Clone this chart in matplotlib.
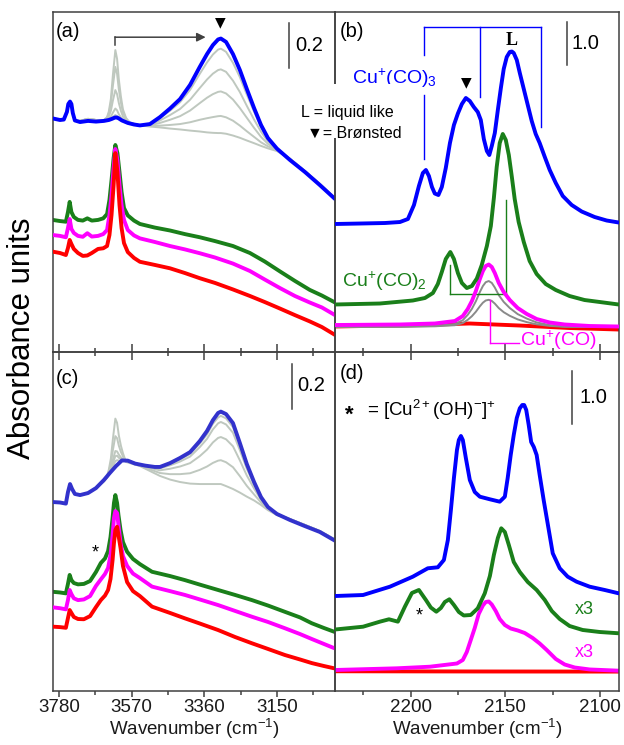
import matplotlib
matplotlib.use('Agg')
import matplotlib.pyplot as plt
from matplotlib.ticker import FixedLocator, NullLocator
from matplotlib.patches import Rectangle

plt.rcParams['font.family'] = ['Liberation Sans', 'DejaVu Sans']
plt.rcParams['mathtext.fontset'] = 'custom'
plt.rcParams['mathtext.rm'] = 'Liberation Sans'
plt.rcParams['mathtext.it'] = 'Liberation Sans:italic'
plt.rcParams['mathtext.bf'] = 'Liberation Sans:bold'

# ---------------- panel (a): OH region ----------------
A_BLUE_WN = [3798, 3777, 3766, 3757, 3753, 3748, 3744, 3740, 3734, 3719, 3696, 3673, 3650, 3636, 3627,
             3618, 3612, 3607, 3598, 3581, 3563, 3546, 3517, 3488, 3459, 3430, 3401, 3373, 3352, 3335,
             3320, 3312, 3297, 3277, 3257, 3237, 3216, 3196, 3176, 3150, 3112, 3069, 3026, 2982]
A_BLUE = [1.038, 1.031, 1.033, 1.067, 1.102, 1.113, 1.102, 1.062, 1.029, 1.022, 1.027, 1.024, 1.027, 1.031,
          1.036, 1.042, 1.042, 1.038, 1.029, 1.018, 1.011, 1.007, 1.013, 1.044, 1.082, 1.124, 1.187, 1.267,
          1.324, 1.364, 1.389, 1.393, 1.378, 1.324, 1.253, 1.169, 1.084, 1.009, 0.951, 0.904, 0.853, 0.800,
          0.742, 0.680]

GRAY_WN = [3734, 3719, 3696, 3673, 3650, 3641, 3636, 3630, 3624, 3617, 3612, 3607, 3601, 3595, 3586, 3575,
           3546, 3517, 3488, 3459, 3430, 3401, 3373, 3352, 3335, 3320, 3312, 3297, 3277, 3257, 3237, 3216,
           3196, 3176, 3150, 3112, 3069, 3026, 2982]
A_GRAY1 = [1.027, 1.027, 1.036, 1.031, 1.031, 1.044, 1.068, 1.124, 1.233, 1.342, 1.303, 1.213, 1.136, 1.078,
           1.040, 1.020, 1.007, 1.002, 0.998, 0.993, 0.989, 0.984, 0.980, 0.976, 0.974, 0.973, 0.973, 0.970,
           0.962, 0.952, 0.940, 0.928, 0.916, 0.905, 0.893, 0.858, 0.804, 0.747, 0.684]
A_GRAY2 = [1.027, 1.027, 1.036, 1.031, 1.031, 1.040, 1.060, 1.102, 1.184, 1.267, 1.236, 1.168, 1.109, 1.064,
           1.034, 1.018, 1.007, 1.004, 1.006, 1.009, 1.013, 1.021, 1.032, 1.039, 1.044, 1.048, 1.049, 1.043,
           1.028, 1.006, 0.981, 0.956, 0.932, 0.914, 0.896, 0.858, 0.804, 0.747, 0.684]
A_GRAY3 = [1.027, 1.027, 1.036, 1.031, 1.031, 1.036, 1.047, 1.071, 1.118, 1.164, 1.146, 1.107, 1.072, 1.046,
           1.027, 1.016, 1.007, 1.007, 1.018, 1.032, 1.048, 1.073, 1.106, 1.130, 1.146, 1.156, 1.158, 1.149,
           1.122, 1.084, 1.041, 0.996, 0.956, 0.925, 0.898, 0.858, 0.804, 0.747, 0.684]
A_GRAY4 = [1.027, 1.027, 1.036, 1.031, 1.031, 1.033, 1.037, 1.046, 1.064, 1.082, 1.074, 1.057, 1.043, 1.032,
           1.021, 1.014, 1.007, 1.010, 1.029, 1.053, 1.080, 1.121, 1.173, 1.211, 1.237, 1.253, 1.256, 1.245,
           1.206, 1.155, 1.094, 1.033, 0.979, 0.936, 0.901, 0.858, 0.804, 0.747, 0.684]
A_GRAY5 = [1.027, 1.027, 1.036, 1.031, 1.031, 1.032, 1.034, 1.038, 1.045, 1.053, 1.048, 1.040, 1.032, 1.026,
           1.019, 1.014, 1.007, 1.012, 1.040, 1.072, 1.110, 1.165, 1.236, 1.287, 1.322, 1.344, 1.348, 1.334,
           1.285, 1.221, 1.144, 1.068, 0.999, 0.946, 0.903, 0.858, 0.804, 0.747, 0.684]

A_LOW_WN = [3798, 3777, 3760, 3754, 3749, 3744, 3737, 3725, 3711, 3698, 3685, 3667, 3652, 3641, 3634, 3628,
            3622, 3617, 3611, 3605, 3599, 3592, 3581, 3563, 3546, 3503, 3459, 3416, 3373, 3329, 3277, 3228,
            3185, 3141, 3098, 3055, 3020, 2982]
A_GREEN = [0.587, 0.582, 0.579, 0.622, 0.667, 0.622, 0.600, 0.587, 0.584, 0.594, 0.584, 0.587, 0.594, 0.613,
           0.676, 0.764, 0.862, 0.920, 0.884, 0.800, 0.711, 0.640, 0.607, 0.584, 0.569, 0.553, 0.540, 0.524,
           0.510, 0.493, 0.471, 0.440, 0.402, 0.358, 0.316, 0.276, 0.251, 0.220]
A_MAGENTA = [0.520, 0.516, 0.510, 0.551, 0.591, 0.547, 0.529, 0.516, 0.512, 0.528, 0.513, 0.516, 0.524, 0.542,
             0.609, 0.698, 0.818, 0.902, 0.853, 0.742, 0.653, 0.587, 0.542, 0.518, 0.505, 0.489, 0.471, 0.456,
             0.439, 0.420, 0.393, 0.360, 0.322, 0.284, 0.249, 0.220, 0.198, 0.164]
A_RED = [0.446, 0.440, 0.431, 0.462, 0.498, 0.480, 0.458, 0.440, 0.427, 0.429, 0.440, 0.458, 0.461, 0.471,
         0.520, 0.609, 0.742, 0.884, 0.800, 0.653, 0.551, 0.484, 0.444, 0.418, 0.401, 0.387, 0.372, 0.351,
         0.328, 0.307, 0.278, 0.249, 0.222, 0.193, 0.164, 0.136, 0.111, 0.076]

# ---------------- panel (c): OH region ----------------
C_BLUE_WN = [3798, 3777, 3760, 3754, 3748, 3742, 3734, 3719, 3696, 3673, 3650, 3633, 3615, 3598, 3581, 3560,
             3531, 3503, 3488, 3459, 3430, 3401, 3373, 3352, 3335, 3320, 3312, 3297, 3277, 3257, 3237, 3216,
             3196, 3176, 3150, 3112, 3069, 3026, 2982]
C_BLUE = [0.840, 0.838, 0.833, 0.884, 0.920, 0.898, 0.876, 0.871, 0.880, 0.902, 0.938, 0.969, 1.000, 1.025,
          1.024, 1.011, 1.002, 0.996, 0.996, 1.013, 1.036, 1.062, 1.111, 1.156, 1.204, 1.236, 1.242, 1.231,
          1.191, 1.102, 1.009, 0.929, 0.862, 0.818, 0.787, 0.760, 0.733, 0.707, 0.668]
C_GRAY1 = [0.876, 0.871, 0.880, 0.902, 0.933, 0.956, 0.983, 1.033, 1.122, 1.211, 1.192, 1.137, 1.091, 1.057,
           1.018, 1.013, 1.000, 0.978, 0.956, 0.940, 0.929, 0.922, 0.920, 0.920, 0.920, 0.920, 0.920, 0.911,
           0.898, 0.882, 0.864, 0.847, 0.827, 0.804, 0.782, 0.764, 0.738, 0.711, 0.673]
C_GRAY2 = [0.876, 0.871, 0.880, 0.902, 0.933, 0.953, 0.974, 1.010, 1.072, 1.133, 1.124, 1.091, 1.063, 1.043,
           1.020, 1.016, 1.002, 0.985, 0.969, 0.964, 0.964, 0.968, 0.983, 0.998, 1.014, 1.024, 1.026, 1.017,
           0.995, 0.955, 0.912, 0.874, 0.838, 0.809, 0.784, 0.764, 0.738, 0.711, 0.673]
C_GRAY3 = [0.876, 0.871, 0.880, 0.902, 0.933, 0.950, 0.966, 0.990, 1.028, 1.067, 1.065, 1.051, 1.039, 1.031,
           1.022, 1.019, 1.004, 0.992, 0.981, 0.988, 0.998, 1.013, 1.044, 1.073, 1.105, 1.125, 1.129, 1.119,
           1.088, 1.025, 0.958, 0.900, 0.850, 0.813, 0.785, 0.764, 0.738, 0.711, 0.673]
C_GRAY4 = [0.876, 0.871, 0.880, 0.902, 0.933, 0.949, 0.963, 0.983, 1.014, 1.044, 1.046, 1.037, 1.031, 1.027,
           1.024, 1.021, 1.006, 0.996, 0.990, 1.003, 1.020, 1.042, 1.084, 1.121, 1.163, 1.190, 1.196, 1.185,
           1.148, 1.070, 0.988, 0.917, 0.857, 0.816, 0.786, 0.764, 0.738, 0.711, 0.673]
C_GRAY5 = [0.876, 0.871, 0.880, 0.902, 0.933, 0.948, 0.960, 0.976, 0.999, 1.022, 1.026, 1.024, 1.023, 1.023,
           1.025, 1.022, 1.006, 0.997, 0.993, 1.009, 1.029, 1.054, 1.100, 1.141, 1.188, 1.216, 1.223, 1.212,
           1.173, 1.089, 1.000, 0.924, 0.860, 0.817, 0.786, 0.764, 0.738, 0.711, 0.673]

C_LOW_WN = [3798, 3777, 3760, 3754, 3749, 3744, 3737, 3725, 3708, 3690, 3673, 3659, 3647, 3638, 3631, 3625,
            3621, 3617, 3612, 3608, 3602, 3595, 3583, 3566, 3546, 3511, 3459, 3416, 3373, 3320, 3271, 3222,
            3176, 3127, 3083, 3049, 3014, 2982]
C_GREEN = [0.441, 0.438, 0.434, 0.476, 0.516, 0.493, 0.480, 0.474, 0.476, 0.489, 0.529, 0.569, 0.589, 0.622,
           0.684, 0.769, 0.836, 0.871, 0.836, 0.782, 0.716, 0.662, 0.619, 0.587, 0.564, 0.530, 0.511, 0.493,
           0.473, 0.449, 0.427, 0.404, 0.380, 0.352, 0.327, 0.301, 0.280, 0.262]
C_MAGENTA = [0.372, 0.368, 0.363, 0.404, 0.449, 0.431, 0.412, 0.404, 0.407, 0.422, 0.467, 0.496, 0.520, 0.547,
             0.604, 0.693, 0.769, 0.800, 0.791, 0.738, 0.658, 0.600, 0.556, 0.522, 0.502, 0.464, 0.444, 0.427,
             0.407, 0.382, 0.356, 0.330, 0.307, 0.279, 0.253, 0.231, 0.209, 0.189]
C_RED = [0.286, 0.284, 0.281, 0.324, 0.360, 0.347, 0.329, 0.320, 0.319, 0.333, 0.373, 0.404, 0.424, 0.449,
         0.498, 0.582, 0.658, 0.716, 0.730, 0.693, 0.636, 0.556, 0.484, 0.444, 0.422, 0.375, 0.347, 0.323,
         0.300, 0.271, 0.240, 0.212, 0.187, 0.160, 0.140, 0.124, 0.111, 0.100]

# ---------------- panel (b): CO region ----------------
B_BLUE_WN = [2240, 2226.8, 2213.6, 2205.7, 2201.5, 2198.3, 2195.7, 2193.6, 2192.0, 2190.4, 2188.8, 2187.3,
             2185.4, 2183.6, 2181.5, 2179.3, 2177.2, 2175.1, 2173.0, 2170.9, 2168.8, 2166.7, 2164.6, 2163.0,
             2161.4, 2159.8, 2158.5, 2157.2, 2155.6, 2154.0, 2152.4, 2150.9, 2149.3, 2147.7, 2146.6, 2145.6,
             2144.0, 2142.4, 2140.3, 2138.2, 2136.1, 2134.0, 2131.9, 2129.2, 2126.6, 2123.4, 2119.7, 2115.0,
             2109.7, 2102.9, 2096.5, 2090.2]
B_BLUE = [2.977, 2.988, 3.000, 3.023, 3.093, 3.419, 3.860, 4.163, 4.233, 4.093, 3.837, 3.686, 3.651, 3.837,
          4.279, 4.860, 5.279, 5.547, 5.767, 5.907, 5.837, 5.698, 5.581, 5.395, 4.953, 4.674, 4.581, 4.791,
          5.093, 5.628, 6.140, 6.581, 6.860, 6.977, 6.988, 6.953, 6.791, 6.488, 6.116, 5.744, 5.372, 5.070,
          4.860, 4.535, 4.233, 3.930, 3.628, 3.419, 3.267, 3.140, 3.058, 3.012]
B_GREEN_WN = [2240, 2216.3, 2198.9, 2192.5, 2188.3, 2185.7, 2183.6, 2181.5, 2179.1, 2177.2, 2175.1, 2173.0,
              2170.4, 2167.7, 2165.1, 2162.5, 2159.8, 2157.7, 2156.1, 2154.6, 2153.0, 2151.4, 2149.8, 2148.2,
              2146.6, 2145.1, 2143.0, 2140.3, 2137.2, 2133.5, 2128.7, 2123.4, 2116.1, 2108.2, 2100.2, 2090.2]
B_GREEN = [1.105, 1.128, 1.198, 1.256, 1.372, 1.581, 1.860, 2.163, 2.326, 2.163, 1.837, 1.605, 1.488, 1.535,
           1.709, 2.023, 2.465, 2.930, 3.581, 4.302, 4.860, 5.070, 4.930, 4.581, 4.070, 3.558, 3.023, 2.558,
           2.116, 1.814, 1.581, 1.442, 1.302, 1.209, 1.163, 1.105]
B_MAG_WN = [2240, 2205.7, 2187.3, 2176.7, 2172.5, 2169.9, 2167.7, 2165.6, 2163.5, 2161.9, 2160.4, 2158.8,
            2157.2, 2155.6, 2153.5, 2150.9, 2147.7, 2143.5, 2138.7, 2133.5, 2126.6, 2118.7, 2105.5, 2090.2]
B_MAGENTA = [0.628, 0.640, 0.663, 0.721, 0.837, 1.000, 1.186, 1.419, 1.698, 1.884, 2.000, 2.035, 1.977, 1.837,
             1.605, 1.395, 1.209, 1.023, 0.884, 0.767, 0.686, 0.640, 0.605, 0.593]
B_GRAY1 = [0.581, 0.591, 0.607, 0.651, 0.740, 0.865, 1.005, 1.181, 1.395, 1.535, 1.623, 1.651, 1.607, 1.500,
           1.323, 1.165, 1.023, 0.881, 0.777, 0.688, 0.626, 0.591, 0.581, 0.581]
B_GRAY2 = [0.581, 0.586, 0.598, 0.623, 0.674, 0.749, 0.833, 0.937, 1.063, 1.147, 1.198, 1.214, 1.188, 1.126,
           1.021, 0.926, 0.842, 0.758, 0.695, 0.644, 0.607, 0.586, 0.581, 0.581]
B_RED_WN = [2240, 2195.2, 2168.8, 2142.4, 2116.1, 2090.2]
B_RED = [0.593, 0.628, 0.663, 0.616, 0.558, 0.523]

# ---------------- panel (d): CO region ----------------
D_BLUE_WN = [2240, 2225.2, 2211.0, 2198.9, 2191.0, 2185.7, 2182.5, 2180.4, 2178.8, 2177.2, 2175.6, 2174.6,
             2173.5, 2172.5, 2170.9, 2168.8, 2166.2, 2163.5, 2158.2, 2153.0, 2150.3, 2148.8, 2147.2, 2145.6,
             2144.0, 2142.4, 2141.1, 2140.1, 2139.0, 2137.7, 2136.4, 2135.0, 2133.5, 2131.9, 2129.8, 2127.7,
             2125.0, 2121.3, 2117.1, 2112.4, 2105.5, 2097.6, 2090.2]
D_BLUE = [1.792, 1.811, 1.968, 2.157, 2.315, 2.334, 2.472, 2.849, 3.415, 4.019, 4.547, 4.736, 4.811, 4.736,
          4.396, 3.981, 3.755, 3.666, 3.617, 3.572, 3.666, 4.019, 4.453, 4.830, 5.151, 5.334, 5.396, 5.396,
          5.302, 5.019, 4.698, 4.604, 4.453, 4.075, 3.604, 3.164, 2.598, 2.315, 2.157, 2.062, 1.968, 1.906,
          1.843]
D_GREEN_WN = [2240, 2225.2, 2216.3, 2211.5, 2206.8, 2203.1, 2199.4, 2195.7, 2192.0, 2189.4, 2186.5, 2184.1,
              2182.0, 2179.6, 2177.2, 2174.6, 2172.0, 2168.3, 2164.6, 2160.9, 2158.2, 2156.1, 2154.0, 2152.2,
              2150.3, 2148.2, 2145.6, 2142.4, 2138.2, 2133.5, 2129.2, 2125.5, 2121.3, 2116.1, 2109.2, 2100.2,
              2090.2]
D_GREEN = [1.160, 1.213, 1.308, 1.353, 1.308, 1.591, 1.849, 1.906, 1.717, 1.575, 1.496, 1.566, 1.679, 1.730,
           1.623, 1.491, 1.425, 1.434, 1.560, 1.843, 2.170, 2.566, 2.887, 3.070, 3.000, 2.755, 2.434, 2.245,
           2.057, 1.906, 1.717, 1.509, 1.358, 1.226, 1.151, 1.113, 1.089]
D_MAG_WN = [2240, 2207.3, 2189.9, 2175.6, 2172.5, 2170.4, 2168.3, 2166.2, 2164.1, 2161.9, 2160.4, 2158.8,
            2157.2, 2155.1, 2153.0, 2150.3, 2147.2, 2143.5, 2139.8, 2135.6, 2131.9, 2128.2, 2123.4, 2118.7,
            2113.4, 2105.5, 2090.2]
D_MAGENTA = [0.396, 0.428, 0.458, 0.519, 0.585, 0.736, 0.962, 1.189, 1.453, 1.613, 1.679, 1.689, 1.632, 1.509,
             1.358, 1.245, 1.179, 1.142, 1.094, 1.000, 0.896, 0.774, 0.604, 0.500, 0.443, 0.406, 0.383]
D_RED_WN = [2240, 2165, 2090]
D_RED = [0.372, 0.368, 0.366]

OH_MAJOR = [3780, 3570, 3360, 3150]
OH_MINOR = [3675, 3465, 3255, 3045]
CO_MAJOR = [2200, 2150, 2100]
CO_MINOR = [2225, 2175, 2125]

# ---------------- styling ----------------
BLUE = '#0000ff'
BLUE_C = '#3232cc'
GREEN = '#1a7f1a'
MAGENTA = '#ff00ff'
RED = '#ff0000'
GRAY = '#bfc8bf'
GRAY_B = '#8a8a8a'
SPINE = '#404040'
LW = 2.8
GLW = 1.4

fig = plt.figure(figsize=(6.24, 7.45), dpi=100)
axA = fig.add_axes([0.0845, 0.5275, 0.4524, 0.4564])
axB = fig.add_axes([0.5369, 0.5275, 0.4551, 0.4564])
axC = fig.add_axes([0.0845, 0.0725, 0.4524, 0.4550])
axD = fig.add_axes([0.5369, 0.0725, 0.4551, 0.4550])


def style(ax, top, oh):
    ax.set_facecolor('none')
    for s in ax.spines.values():
        s.set_color(SPINE)
        s.set_linewidth(1.1)
    ax.yaxis.set_major_locator(NullLocator())
    ax.yaxis.set_minor_locator(NullLocator())
    ax.xaxis.set_major_locator(FixedLocator(OH_MAJOR if oh else CO_MAJOR))
    ax.xaxis.set_minor_locator(FixedLocator(OH_MINOR if oh else CO_MINOR))
    if oh:
        ax.set_xlim(3798, 2982)
    else:
        ax.set_xlim(2240, 2090)
    if top:
        ax.tick_params(axis='x', which='major', direction='inout', length=11, width=1.1,
                       color=SPINE, labelbottom=False)
        ax.tick_params(axis='x', which='minor', direction='inout', length=5.5, width=1.1, color=SPINE)
    else:
        ax.tick_params(axis='x', which='major', direction='out', length=4.5, width=1.1,
                       color=SPINE, labelsize=13.5, pad=1.5, labelcolor='#1a1a1a')
        ax.tick_params(axis='x', which='minor', direction='out', length=3, width=1.1, color=SPINE)
        ax.set_xlabel('Wavenumber (cm$^{-1}$)', fontsize=13.5, labelpad=0.5, color='#1a1a1a')


def curve(ax, x, y, color, lw=LW, z=3):
    ax.plot(x, y, color=color, lw=lw, zorder=z, solid_joinstyle='round', solid_capstyle='round')


# panel (a)
style(axA, True, True)
axA.set_ylim(0, 1.511)
for g in (A_GRAY1, A_GRAY2, A_GRAY3, A_GRAY4, A_GRAY5):
    curve(axA, GRAY_WN, g, GRAY, GLW, 1)
curve(axA, A_BLUE_WN, A_BLUE, BLUE, LW, 3)
curve(axA, A_LOW_WN, A_GREEN, GREEN, LW, 2)
curve(axA, A_LOW_WN, A_MAGENTA, MAGENTA, LW, 3)
curve(axA, A_LOW_WN, A_RED, RED, LW, 4)
axA.text(0.012, 0.944, '(a)', transform=axA.transAxes, fontsize=14.5, ha='left', va='center')
axA.plot([3618, 3618], [1.364, 1.399], color=SPINE, lw=1.1)
axA.annotate('', xy=(3356, 1.399), xytext=(3618, 1.399),
             arrowprops=dict(arrowstyle='-|>', color=SPINE, lw=1.1, mutation_scale=13,
                             shrinkA=0, shrinkB=0))
axA.text(3315, 1.466, '\u25bc', fontsize=10, ha='center', va='center', family='DejaVu Sans')
axA.plot([3114, 3114], [1.264, 1.464], color=SPINE, lw=1.1)
axA.text(3098, 1.364, '0.2', fontsize=14.5, ha='left', va='center')

# panel (b)
style(axB, True, False)
axB.set_ylim(0, 7.907)
curve(axB, B_RED_WN, B_RED, RED, LW, 1)
curve(axB, B_MAG_WN, B_GRAY1, GRAY_B, GLW, 2)
curve(axB, B_MAG_WN, B_GRAY2, GRAY_B, GLW, 2)
curve(axB, B_MAG_WN, B_MAGENTA, MAGENTA, LW, 3)
curve(axB, B_GREEN_WN, B_GREEN, GREEN, LW, 3)
curve(axB, B_BLUE_WN, B_BLUE, BLUE, LW, 3)
axB.text(0.018, 0.944, '(b)', transform=axB.transAxes, fontsize=14.5, ha='left', va='center')
axB.plot([2117.5, 2117.5], [6.674, 7.674], color=SPINE, lw=1.1)
axB.text(2115, 7.17, '1.0', fontsize=14.5, ha='left', va='center')
# Cu+(CO)3 bracket
BLW = 1.0
axB.plot([2192.9, 2131.4], [7.558, 7.558], color=BLUE, lw=BLW)
axB.plot([2192.9, 2192.9], [7.558, 6.90], color=BLUE, lw=BLW)
axB.plot([2192.9, 2192.9], [5.97, 4.495], color=BLUE, lw=BLW)
axB.plot([2163.5, 2163.5], [7.558, 5.93], color=BLUE, lw=BLW)
axB.plot([2131.4, 2131.4], [7.558, 5.233], color=BLUE, lw=BLW)
axB.text(2231, 6.37, 'Cu$^{+}$(CO)$_{3}$', color=BLUE, fontsize=14, ha='left', va='center')
axB.text(2146.8, 7.25, 'L', fontsize=13, ha='center', va='center', family='Liberation Serif',
         fontweight='bold')
axB.text(2170.9, 6.27, '\u25bc', fontsize=10, ha='center', va='center', family='DejaVu Sans')
# Cu+(CO)2 bracket
axB.plot([2179.3, 2149.8], [1.349, 1.349], color=GREEN, lw=BLW)
axB.plot([2179.3, 2179.3], [1.349, 2.023], color=GREEN, lw=BLW)
axB.plot([2149.8, 2149.8], [1.349, 3.535], color=GREEN, lw=BLW)
axB.text(2236.3, 1.65, 'Cu$^{+}$(CO)$_{2}$', color=GREEN, fontsize=14, ha='left', va='center')
# Cu+(CO) bracket
axB.plot([2158.3, 2158.3], [1.209, 0.209], color=MAGENTA, lw=BLW, clip_on=False)
axB.plot([2158.3, 2142.6], [0.209, 0.209], color=MAGENTA, lw=BLW, clip_on=False)
axB.text(2142.4, 0.28, 'Cu$^{+}$(CO)', color=MAGENTA, fontsize=14, ha='left', va='center')

# panel (c)
style(axC, False, True)
axC.set_ylim(0, 1.507)
for g in (C_GRAY1, C_GRAY2, C_GRAY3, C_GRAY4, C_GRAY5):
    curve(axC, GRAY_WN, g, GRAY, GLW, 1)
curve(axC, C_BLUE_WN, C_BLUE, BLUE_C, LW, 3)
curve(axC, C_LOW_WN, C_GREEN, GREEN, LW, 2)
curve(axC, C_LOW_WN, C_MAGENTA, MAGENTA, LW, 3)
curve(axC, C_LOW_WN, C_RED, RED, LW, 4)
axC.text(0.012, 0.923, '(c)', transform=axC.transAxes, fontsize=14.5, ha='left', va='center')
axC.plot([3107, 3107], [1.255, 1.455], color=SPINE, lw=1.1)
axC.text(3092, 1.356, '0.2', fontsize=14.5, ha='left', va='center')
axC.text(3675, 0.615, '*', fontsize=13, ha='center', va='center')

# panel (d)
style(axD, False, False)
axD.set_ylim(0, 6.396)
curve(axD, D_RED_WN, D_RED, RED, LW, 1)
curve(axD, D_MAG_WN, D_MAGENTA, MAGENTA, LW, 2)
curve(axD, D_GREEN_WN, D_GREEN, GREEN, LW, 3)
curve(axD, D_BLUE_WN, D_BLUE, BLUE, LW, 3)
axD.text(0.018, 0.938, '(d)', transform=axD.transAxes, fontsize=14.5, ha='left', va='center')
axD.plot([2114.8, 2114.8], [5.043, 6.043], color=SPINE, lw=1.1)
axD.text(2110.8, 5.53, '1.0', fontsize=14.5, ha='left', va='center')
axD.text(2232.6, 5.20, '*', fontsize=16, fontweight='bold', ha='center', va='center')
axD.text(2223.3, 5.30, '= [Cu$^{2+}$(OH)$^{-}$]$^{+}$', fontsize=13.5, ha='left', va='center')
axD.text(2113.4, 1.53, 'x3', color=GREEN, fontsize=13, ha='left', va='center')
axD.text(2113.4, 0.72, 'x3', color=MAGENTA, fontsize=13, ha='left', va='center')
axD.text(2195.5, 1.42, '*', fontsize=13, ha='center', va='center')

# shared y label and note on the panel divider
fig.text(0.036, 0.546, 'Absorbance units', rotation=90, fontsize=22.5, ha='center', va='center')
fig.patches.append(Rectangle((0.479, 0.8148), 0.159, 0.0725, transform=fig.transFigure,
                             facecolor='white', edgecolor='none', zorder=1))
fig.text(301 / 624, 1 - 112 / 745, 'L = liquid like', fontsize=11.5, ha='left', va='center', zorder=3)
fig.text(307 / 624, 1 - 133 / 745, '\u25bc= Br\u00f8nsted', fontsize=11.5, ha='left', va='center', zorder=3)

fig.savefig('out.png', dpi=100)
